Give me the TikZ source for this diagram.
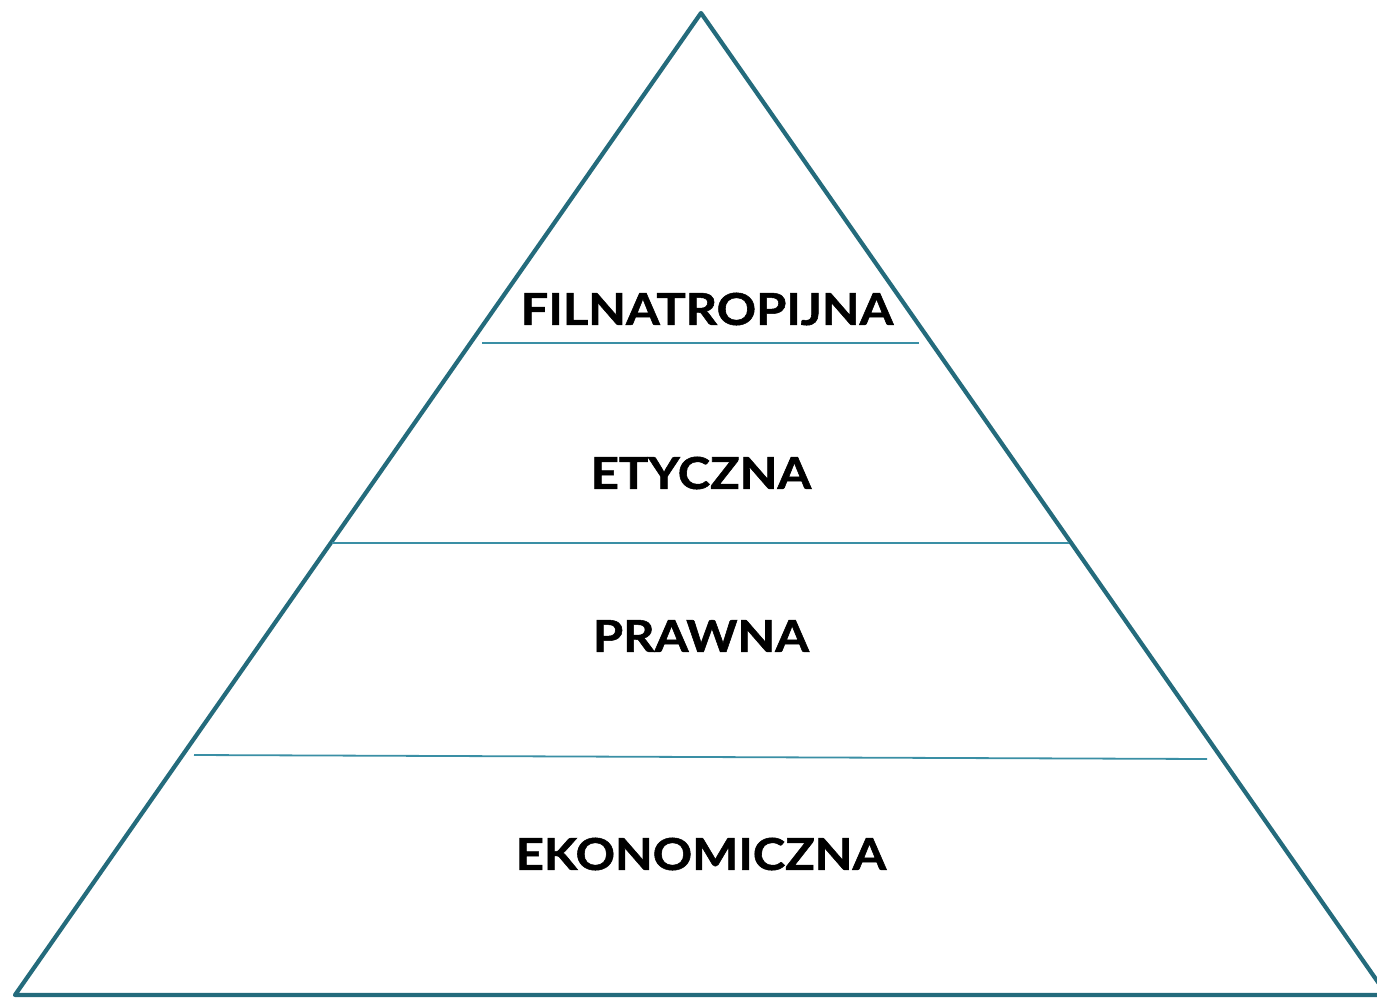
\documentclass[tikz,border=0pt]{standalone}
\usepackage{fontspec}
\setmainfont{Lato}
\newfontfamily\lblfont[FakeBold=1.2]{Lato Bold}
\definecolor{tri}{HTML}{246B7C}
\definecolor{sep}{HTML}{3A8FA5}
\newcommand{\wide}[1]{\scalebox{1.11}[1]{#1}}
\begin{document}
\begin{tikzpicture}[x=1pt,y=-1pt,
  outline/.style={draw=tri,line width=4.2pt,line join=round},
  sepline/.style={draw=sep,line width=1.8pt},
  lbl/.style={font=\fontsize{44}{48}\lblfont,text=black,inner sep=0pt}]
\useasboundingbox (0,0) rectangle (1377,997);
\clip (0,0) rectangle (1377,997);
\coordinate (apex) at (701,13);
\coordinate (bl) at (15,995);
\coordinate (br) at (1387,995);
\draw[outline] (bl) -- (apex) -- (br) -- cycle;
\coordinate (s1a) at (482,343); \coordinate (s1b) at (919,343);
\coordinate (s2a) at (332,543); \coordinate (s2b) at (1069,543);
\coordinate (s3a) at (194,755); \coordinate (s3b) at (1207,759);
\draw[sepline] (s1a) -- (s1b);
\draw[sepline] (s2a) -- (s2b);
\draw[sepline] (s3a) -- (s3b);
\node[lbl] (l1) at (707,309) {\wide{FILNATROPIJNA}};
\node[lbl] (l2) at (701,473) {\wide{ETYCZNA}};
\node[lbl] (l3) at (701,636) {\wide{PRAWNA}};
\node[lbl] (l4) at (701,854) {\wide{EKONOMICZNA}};
\end{tikzpicture}
\end{document}
